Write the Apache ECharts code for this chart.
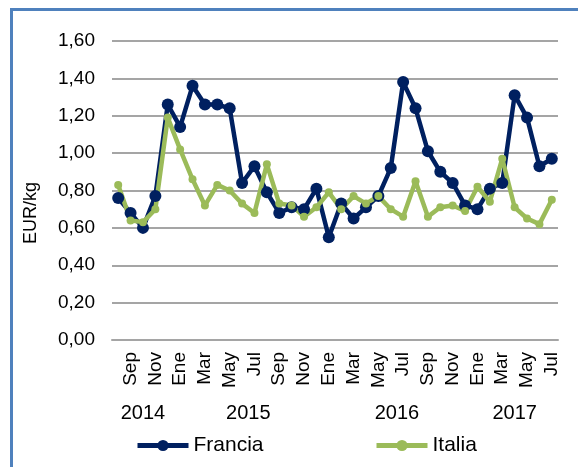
<!DOCTYPE html>
<html>
<head>
<meta charset="UTF-8">
<title>Francia / Italia</title>
<script src="https://cdn.jsdelivr.net/npm/echarts@6/dist/echarts.min.js"></script>
<style>
  body { margin: 0; background: #fff; }
  #frame {
    position: absolute; left: 10px; top: 8px; width: 620px; height: 520px;
    border: 3px solid #4f81bd; pointer-events: none;
  }
  #chart { width: 578px; height: 467px; }
</style>
</head>
<body>
<div id="chart"></div>
<div id="frame"></div>
<script>
// meses ago 2014 - jul 2017
var months = ['Ago', 'Sep', 'Oct', 'Nov', 'Dic',
  'Ene', 'Feb', 'Mar', 'Abr', 'May', 'Jun', 'Jul', 'Ago', 'Sep', 'Oct', 'Nov', 'Dic',
  'Ene', 'Feb', 'Mar', 'Abr', 'May', 'Jun', 'Jul', 'Ago', 'Sep', 'Oct', 'Nov', 'Dic',
  'Ene', 'Feb', 'Mar', 'Abr', 'May', 'Jun', 'Jul'];
var years = [2014, 2014, 2014, 2014, 2014,
  2015, 2015, 2015, 2015, 2015, 2015, 2015, 2015, 2015, 2015, 2015, 2015,
  2016, 2016, 2016, 2016, 2016, 2016, 2016, 2016, 2016, 2016, 2016, 2016,
  2017, 2017, 2017, 2017, 2017, 2017, 2017];
var francia = [0.76, 0.68, 0.60, 0.77, 1.26, 1.14, 1.36, 1.26, 1.26, 1.24, 0.84, 0.93,
  0.79, 0.68, 0.71, 0.70, 0.81, 0.55, 0.73, 0.65, 0.71, 0.77, 0.92, 1.38,
  1.24, 1.01, 0.90, 0.84, 0.72, 0.70, 0.81, 0.84, 1.31, 1.19, 0.93, 0.97];
var italia = [0.83, 0.64, 0.63, 0.70, 1.19, 1.02, 0.86, 0.72, 0.83, 0.80, 0.73, 0.68,
  0.94, 0.73, 0.72, 0.66, 0.71, 0.79, 0.70, 0.77, 0.73, 0.77, 0.70, 0.66,
  0.85, 0.66, 0.71, 0.72, 0.69, 0.82, 0.74, 0.97, 0.71, 0.65, 0.62, 0.75];

// centro de cada año sobre el eje de meses
var yearNames = [];
var yearCenters = [];
years.forEach(function (y, i) {
  var k = yearNames.indexOf(y);
  if (k < 0) {
    yearNames.push(y);
    yearCenters.push([i, i]);
  } else {
    yearCenters[k][1] = i;
  }
});
yearCenters = yearCenters.map(function (r) { return (r[0] + r[1]) / 2; });

var font = 'Liberation Sans, Arial, sans-serif';
var myChart = echarts.init(document.getElementById('chart'));
myChart.setOption({
  animation: false,
  grid: { left: 112, right: 20, top: 41, bottom: 127 },
  legend: [{
    data: ['Francia'],
    left: 130, top: 430,
    itemWidth: 51, itemHeight: 14, itemGap: 6,
    lineStyle: { width: 5 },
    textStyle: { fontFamily: font, fontSize: 21, color: '#000' }
  }, {
    data: ['Italia'],
    left: 369, top: 430,
    itemWidth: 51, itemHeight: 14, itemGap: 6,
    lineStyle: { width: 5 },
    textStyle: { fontFamily: font, fontSize: 21, color: '#000' }
  }],
  xAxis: [{
    type: 'category',
    data: months,
    boundaryGap: true,
    axisLine: { lineStyle: { color: '#a5a5a5', width: 2 } },
    axisTick: { show: false },
    axisLabel: {
      interval: function (index) { return index % 2 === 1; },
      rotate: 90,
      margin: 12,
      fontFamily: font, fontSize: 19, color: '#000'
    }
  }, {
    type: 'value',
    min: -0.5,
    max: months.length - 0.5,
    position: 'bottom',
    axisLine: { show: false },
    axisTick: { show: false },
    splitLine: { show: false },
    axisLabel: {
      customValues: yearCenters,
      margin: 63,
      formatter: function (v) {
        var k = yearCenters.indexOf(v);
        return k < 0 ? '' : String(yearNames[k]);
      },
      fontFamily: font, fontSize: 20, color: '#000'
    }
  }],
  yAxis: {
    type: 'value',
    min: 0, max: 1.6, interval: 0.2,
    name: 'EUR/kg',
    nameLocation: 'middle',
    nameGap: 72,
    nameTextStyle: { fontFamily: font, fontSize: 18, color: '#000', padding: [0, 45, 0, 0] },
    axisLine: { show: false },
    axisTick: { show: false },
    splitLine: { lineStyle: { color: '#a5a5a5', width: 2 } },
    axisLabel: {
      margin: 17,
      formatter: function (v) { return v.toFixed(2).replace('.', ','); },
      fontFamily: font, fontSize: 19, color: '#000'
    }
  },
  series: [{
    name: 'Francia',
    type: 'line',
    data: francia,
    symbol: 'circle',
    symbolSize: 12,
    showAllSymbol: true,
    color: '#002060',
    lineStyle: { width: 4.5, color: '#002060' },
    itemStyle: { color: '#002060' }
  }, {
    name: 'Italia',
    type: 'line',
    data: italia,
    symbol: 'circle',
    symbolSize: 8,
    showAllSymbol: true,
    color: '#9bbb59',
    lineStyle: { width: 4.5, color: '#9bbb59' },
    itemStyle: { color: '#9bbb59' }
  }]
});
</script>
</body>
</html>
